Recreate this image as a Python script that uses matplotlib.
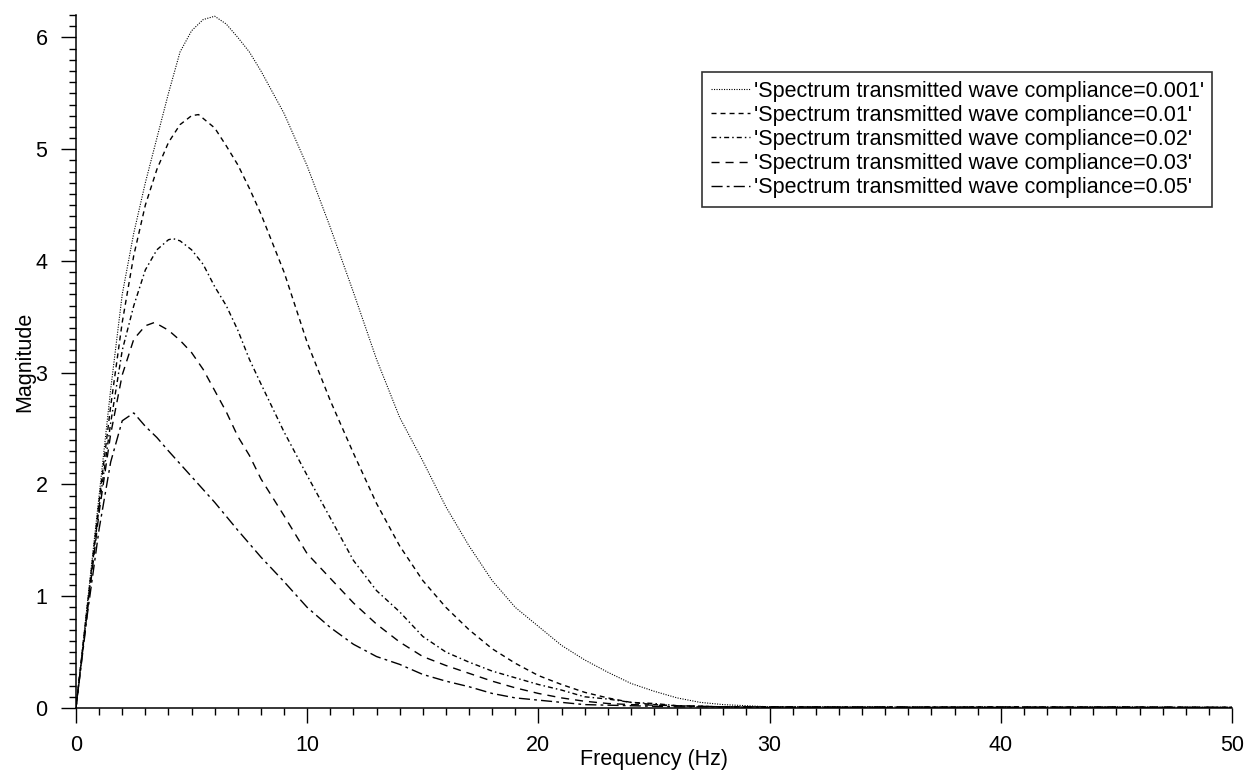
import matplotlib
matplotlib.use('Agg')
import matplotlib.pyplot as plt
from matplotlib.ticker import MultipleLocator

plt.rcParams['font.family'] = ['Liberation Sans', 'DejaVu Sans']
plt.rcParams['lines.scale_dashes'] = False

# Data
freq_001 = [0, 0.5, 1, 1.5, 2, 2.5, 3, 3.5, 4, 4.5, 5, 5.5, 6, 6.5, 7, 7.5, 8, 9, 10, 11,
            12, 13, 14, 15, 16, 17, 18, 19, 20, 21, 22, 23, 24, 25, 26, 27, 28, 30, 35, 40, 45, 50]
mag_001 = [0, 0.95, 1.9, 2.85, 3.7, 4.25, 4.7, 5.1, 5.5, 5.87, 6.06, 6.16, 6.19, 6.12, 6.0, 5.87, 5.7, 5.32, 4.85, 4.3,
           3.72, 3.12, 2.6, 2.21, 1.8, 1.45, 1.14, 0.9, 0.73, 0.56, 0.43, 0.32, 0.22, 0.15, 0.09, 0.05, 0.03, 0.01, 0.01, 0.005, 0.01, 0.005]

freq_01 = [0, 0.5, 1, 1.5, 2, 2.5, 3, 3.5, 4, 4.5, 5, 5.3, 6, 6.5, 7, 7.5, 8, 9, 10, 11,
           12, 13, 14, 15, 16, 17, 18, 19, 20, 21, 22, 23, 24, 25, 26, 28, 30, 35, 40, 45, 50]
mag_01 = [0, 0.93, 1.85, 2.7, 3.45, 4.05, 4.5, 4.82, 5.06, 5.22, 5.3, 5.31, 5.19, 5.03, 4.86, 4.65, 4.42, 3.9, 3.27, 2.75,
          2.28, 1.83, 1.45, 1.14, 0.9, 0.7, 0.53, 0.4, 0.29, 0.21, 0.14, 0.09, 0.05, 0.03, 0.02, 0.01, 0.01, 0.005, 0.01, 0.005, 0.005]

freq_02 = [0, 0.5, 1, 1.5, 2, 2.5, 3, 3.5, 4, 4.2, 4.5, 5, 5.5, 6, 6.5, 7, 7.5, 8, 9, 10,
           11, 12, 13, 14, 15, 16, 17, 18, 19, 20, 21, 22, 23, 24, 25, 26, 28, 30, 35, 40, 45, 50]
mag_02 = [0, 0.9, 1.8, 2.55, 3.2, 3.6, 3.92, 4.1, 4.19, 4.2, 4.18, 4.1, 3.97, 3.77, 3.6, 3.38, 3.12, 2.9, 2.47, 2.08,
          1.7, 1.32, 1.05, 0.86, 0.64, 0.5, 0.41, 0.33, 0.27, 0.21, 0.16, 0.1, 0.08, 0.05, 0.04, 0.02, 0.01, 0.01, 0.005, 0.01, 0.005, 0.005]

freq_03 = [0, 0.5, 1, 1.5, 2, 2.5, 3, 3.4, 4, 4.5, 5, 5.5, 6, 6.5, 7, 7.5, 8, 9, 10, 11,
           12, 13, 14, 15, 16, 17, 18, 19, 20, 21, 22, 23, 24, 26, 28, 30, 35, 40, 45, 50]
mag_03 = [0, 0.88, 1.75, 2.45, 2.98, 3.3, 3.42, 3.45, 3.38, 3.29, 3.18, 3.03, 2.84, 2.65, 2.43, 2.26, 2.05, 1.72, 1.38, 1.16,
          0.94, 0.75, 0.59, 0.46, 0.38, 0.31, 0.24, 0.18, 0.13, 0.09, 0.06, 0.04, 0.03, 0.02, 0.01, 0.01, 0.005, 0.005, 0.01, 0.005]

freq_05 = [0, 0.5, 1, 1.5, 2, 2.5, 3, 3.5, 4, 5, 6, 7, 8, 9, 10, 11, 12, 13, 14, 15,
           16, 17, 18, 19, 20, 21, 22, 24, 26, 28, 30, 35, 40, 45, 50]
mag_05 = [0, 0.85, 1.6, 2.2, 2.57, 2.64, 2.52, 2.42, 2.3, 2.07, 1.84, 1.59, 1.35, 1.13, 0.9, 0.72, 0.57, 0.46, 0.39, 0.3,
          0.24, 0.19, 0.13, 0.09, 0.07, 0.05, 0.03, 0.02, 0.01, 0.01, 0.005, 0.01, 0.005, 0.005, 0.005]

labels = ["'Spectrum transmitted wave compliance=0.001'",
          "'Spectrum transmitted wave compliance=0.01'",
          "'Spectrum transmitted wave compliance=0.02'",
          "'Spectrum transmitted wave compliance=0.03'",
          "'Spectrum transmitted wave compliance=0.05'"]

fig = plt.figure(figsize=(12.6, 7.75), dpi=100)
ax = fig.add_axes([0.0603, 0.0865, 0.9175, 0.894])

ax.plot(freq_001, mag_001, color='black', lw=0.8, linestyle=(0, (0.8, 1.0)), label=labels[0])
ax.plot(freq_01, mag_01, color='black', lw=1.0, linestyle=(0, (3.6, 2.9)), label=labels[1])
ax.plot(freq_02, mag_02, color='black', lw=1.0, linestyle=(0, (3.6, 2.2, 1.1, 2.2)), label=labels[2])
ax.plot(freq_03, mag_03, color='black', lw=1.0, linestyle=(0, (5.8, 4.3)), label=labels[3])
ax.plot(freq_05, mag_05, color='black', lw=1.0, linestyle=(0, (8, 3, 2, 3)), label=labels[4])

ax.set_xlim(0, 50)
ax.set_ylim(0, 6.2)
ax.spines['top'].set_visible(False)
ax.spines['right'].set_visible(False)
for s in ['left', 'bottom']:
    ax.spines[s].set_linewidth(1.1)

ax.xaxis.set_major_locator(MultipleLocator(10))
ax.xaxis.set_minor_locator(MultipleLocator(1))
ax.yaxis.set_major_locator(MultipleLocator(1))
ax.yaxis.set_minor_locator(MultipleLocator(0.1))
ax.tick_params(which='major', direction='out', length=11, width=1.0, labelsize=15.5)
ax.tick_params(which='minor', direction='out', length=5, width=1.0)
ax.tick_params(axis='x', which='major', pad=8.6)
ax.tick_params(axis='y', which='major', pad=9.5)

ax.set_xlabel('Frequency (Hz)', fontsize=15.5, labelpad=-5.5)
ax.set_ylabel('Magnitude', fontsize=15.5, labelpad=0)

leg = ax.legend(loc='upper right', bbox_to_anchor=(0.983, 0.918), borderaxespad=0,
                fontsize=15.5, fancybox=False, framealpha=1, edgecolor='#333333',
                handlelength=1.85, handletextpad=0.15, labelspacing=0.15, borderpad=0.4)
leg.get_frame().set_linewidth(1.2)

plt.savefig('out.png', dpi=100)
